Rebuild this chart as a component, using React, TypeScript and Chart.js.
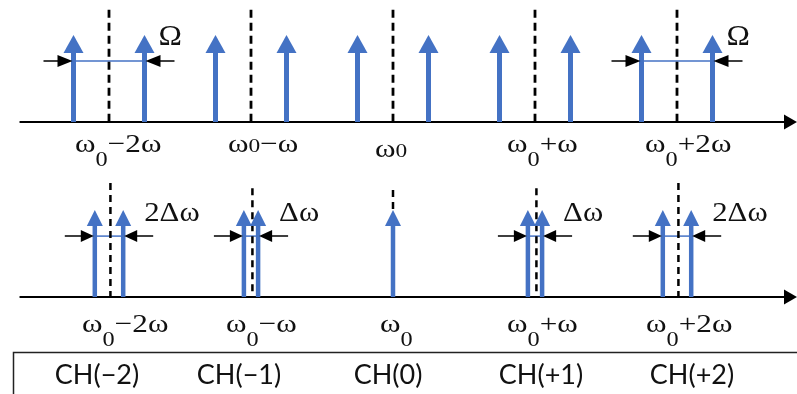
import React, { useEffect, useRef } from "react";
import { Chart, registerables } from "chart.js";

Chart.register(...registerables);

// ---- data (frequency in units of ω, offset from ω0; amplitude normalised) ----
const channels = [-2, -1, 0, 1, 2];
const topLabels = ["ω_0−2ω", "ω~0−ω", "ω~0", "ω_0+ω", "ω_0+2ω"];
const bottomLabels = ["ω_0−2ω", "ω_0−ω", "ω_0", "ω_0+ω", "ω_0+2ω"];
const channelNames = ["CH(−2)", "CH(−1)", "CH(0)", "CH(+1)", "CH(+2)"];

const topLines = [-2.25, -1.75, -1.25, -0.75, -0.25, 0.25, 0.75, 1.25, 1.75, 2.25];
const topAmps = [1, 1, 1, 1, 1, 1, 1, 1, 1, 1];
const topDashHeights = [1.29, 1.29, 1.29, 1.29, 1.29];

const bottomLines = [-2.1, -1.9, -1.05, -0.95, 0, 0.95, 1.05, 1.9, 2.1];
const bottomAmps = [1, 1, 1, 1, 1, 1, 1, 1, 1];
const bottomDashHeights = [1.31, 1.25, 1.23, 1.25, 1.31];

const topMeasures = [[-2.25, -1.75], [1.75, 2.25]];
const topMeasureText = ["Ω", "Ω"];
const bottomMeasures = [[-2.1, -1.9], [-1.05, -0.95], [0.95, 1.05], [1.9, 2.1]];
const bottomMeasureText = ["2Δω", "Δω", "Δω", "2Δω"];
const measureLevel = 0.7;
const axisRange = [-2.63, 2.845];

const BLUE = "#4472C4";
const SERIF = '"Liberation Serif", "Times New Roman", serif';
const SANS = 'Lato, "Open Sans", sans-serif';

function drawRich(ctx: CanvasRenderingContext2D, text: string, x: number, baseline: number, size: number, stretch: number) {
  // tokens: "_0" lowered subscript, "~0" small inline
  const toks: { t: string; kind: number }[] = [];
  for (let i = 0; i < text.length; i++) {
    const c = text[i];
    if ((c === "_" || c === "~") && i + 1 < text.length) {
      toks.push({ t: text[i + 1], kind: c === "_" ? 1 : 2 });
      i++;
    } else toks.push({ t: c, kind: 0 });
  }
  ctx.save();
  ctx.translate(x, baseline);
  ctx.scale(stretch, 1);
  ctx.textAlign = "left";
  ctx.textBaseline = "alphabetic";
  ctx.fillStyle = "#111";
  let cx = 0;
  for (const tk of toks) {
    let fs = size;
    let dy = 0;
    if (tk.kind === 1) { fs = size * 0.78; dy = size * 0.55; }
    if (tk.kind === 2) { fs = size * 0.75; dy = 0; }
    ctx.font = `${fs}px ${SERIF}`;
    ctx.fillText(tk.t, cx, dy);
    cx += ctx.measureText(tk.t).width;
  }
  ctx.restore();
}

function triangle(ctx: CanvasRenderingContext2D, tipX: number, tipY: number, dirX: number, dirY: number, len: number, hw: number, color: string) {
  const bx = tipX - dirX * len;
  const by = tipY - dirY * len;
  const px = -dirY, py = dirX;
  ctx.beginPath();
  ctx.moveTo(tipX, tipY);
  ctx.lineTo(bx + px * hw, by + py * hw);
  ctx.lineTo(bx - px * hw, by - py * hw);
  ctx.closePath();
  ctx.fillStyle = color;
  ctx.fill();
}

const diagramPlugin = {
  id: "diagram",
  beforeDatasetsDraw(chart: any) {
    const ctx: CanvasRenderingContext2D = chart.ctx;
    const x = chart.scales.x;
    const panels = [
      { y: chart.scales.yTop, meas: topMeasures },
      { y: chart.scales.yBot, meas: bottomMeasures },
    ];
    ctx.save();
    for (const p of panels) {
      const y0 = p.y.getPixelForValue(0);
      const xs = x.getPixelForValue(axisRange[0]);
      const xe = x.getPixelForValue(axisRange[1]);
      ctx.strokeStyle = "#000";
      ctx.lineWidth = 2;
      ctx.beginPath();
      ctx.moveTo(xs, y0);
      ctx.lineTo(xe - 8, y0);
      ctx.stroke();
      triangle(ctx, xe, y0, 1, 0, 13, 7.5, "#000");
      for (const m of p.meas) {
        const yl = p.y.getPixelForValue(measureLevel);
        ctx.strokeStyle = BLUE;
        ctx.lineWidth = 1.5;
        ctx.beginPath();
        ctx.moveTo(x.getPixelForValue(m[0]), yl);
        ctx.lineTo(x.getPixelForValue(m[1]), yl);
        ctx.stroke();
      }
    }
    ctx.restore();
  },
  afterDatasetsDraw(chart: any) {
    const ctx: CanvasRenderingContext2D = chart.ctx;
    const x = chart.scales.x;
    const yT = chart.scales.yTop;
    const yB = chart.scales.yBot;
    ctx.save();
    topLines.forEach((f, i) => {
      triangle(ctx, x.getPixelForValue(f), yT.getPixelForValue(topAmps[i]), 0, -1, 18, 10, BLUE);
    });
    bottomLines.forEach((f, i) => {
      triangle(ctx, x.getPixelForValue(f), yB.getPixelForValue(bottomAmps[i]), 0, -1, 16, 8, BLUE);
    });
    const measure = (yS: any, m: number[], txt: string, big: boolean) => {
      const yl = yS.getPixelForValue(measureLevel);
      const xl = x.getPixelForValue(m[0]) - 1;
      const xr = x.getPixelForValue(m[1]) + 1;
      const len = big ? 15 : 13;
      const tail = big ? 14 : 16;
      ctx.strokeStyle = "#000";
      ctx.lineWidth = 1.5;
      ctx.beginPath();
      ctx.moveTo(xl - len - tail, yl);
      ctx.lineTo(xl - len + 1, yl);
      ctx.moveTo(xr + len - 1, yl);
      ctx.lineTo(xr + len + tail, yl);
      ctx.stroke();
      triangle(ctx, xl, yl, 1, 0, len, 6, "#000");
      triangle(ctx, xr, yl, -1, 0, len, 6, "#000");
      if (big) drawRich(ctx, txt, xr + 13, yl - 16, 30, 1.05);
      else drawRich(ctx, txt, xr + 20, yl - 15, 28, 1.1);
    };
    topMeasures.forEach((m, i) => measure(yT, m, topMeasureText[i], true));
    bottomMeasures.forEach((m, i) => measure(yB, m, bottomMeasureText[i], false));

    const topOff = [-34, -23, -18, -28, -32];
    const topBase = [152, 152, 157, 152, 152];
    const botOff = [-27, -25, -13, -28, -31];
    channels.forEach((c, i) => {
      drawRich(ctx, topLabels[i], x.getPixelForValue(c) + topOff[i], topBase[i], 26, 1.2);
      drawRich(ctx, bottomLabels[i], x.getPixelForValue(c) + botOff[i], 332, 26, 1.2);
    });

    ctx.strokeStyle = "#222";
    ctx.lineWidth = 1.5;
    ctx.strokeRect(13.5, 352.5, 800, 60);
    const chOff = [-12, -12, -5, 6, 15];
    ctx.font = `27px ${SANS}`;
    ctx.fillStyle = "#111";
    ctx.textAlign = "center";
    ctx.textBaseline = "alphabetic";
    channels.forEach((c, i) => {
      ctx.fillText(channelNames[i], x.getPixelForValue(c) + chOff[i], 384);
    });
    ctx.restore();
  },
};

export default function App() {
  const ref = useRef<HTMLCanvasElement>(null);
  useEffect(() => {
    document.body.style.margin = "0";
    document.body.style.background = "#fff";
    const datasets: any[] = [];
    topLines.forEach((f, i) => {
      datasets.push({
        type: "line", yAxisID: "yTop", data: [{ x: f, y: 0 }, { x: f, y: topAmps[i] - 0.12 }],
        borderColor: BLUE, borderWidth: 5, pointRadius: 0, borderCapStyle: "butt",
      });
    });
    bottomLines.forEach((f, i) => {
      datasets.push({
        type: "line", yAxisID: "yBot", data: [{ x: f, y: 0 }, { x: f, y: bottomAmps[i] - 0.1 }],
        borderColor: BLUE, borderWidth: 4.5, pointRadius: 0, borderCapStyle: "butt",
      });
    });
    channels.forEach((c, i) => {
      datasets.push({
        type: "line", yAxisID: "yTop", data: [{ x: c, y: topDashHeights[i] }, { x: c, y: 0 }],
        borderColor: "#000", borderWidth: 2.8, borderDash: [8, 5], pointRadius: 0, borderCapStyle: "butt",
      });
      const bx = c + (i === 2 ? 0 : 0.01);
      datasets.push({
        type: "line", yAxisID: "yBot", data: [{ x: bx, y: bottomDashHeights[i] }, { x: bx, y: 0 }],
        borderColor: "#000", borderWidth: 2.5, borderDash: [7, 5], pointRadius: 0, borderCapStyle: "butt",
      });
    });
    const chart = new Chart(ref.current as HTMLCanvasElement, {
      type: "line",
      data: { datasets },
      options: {
        animation: false,
        responsive: false,
        events: [],
        layout: { padding: 0 },
        plugins: { legend: { display: false }, tooltip: { enabled: false } },
        scales: {
          x: { type: "linear", display: false, min: -393 / 142, max: 404 / 142 },
          yTop: { type: "linear", display: false, min: (122 - 394) / 87, max: 122 / 87 },
          yBot: { type: "linear", display: false, min: (297 - 394) / 87, max: 297 / 87 },
        },
      },
      plugins: [diagramPlugin],
    } as any);
    return () => chart.destroy();
  }, []);
  return <canvas ref={ref} width={797} height={394} style={{ display: "block" }} />;
}
